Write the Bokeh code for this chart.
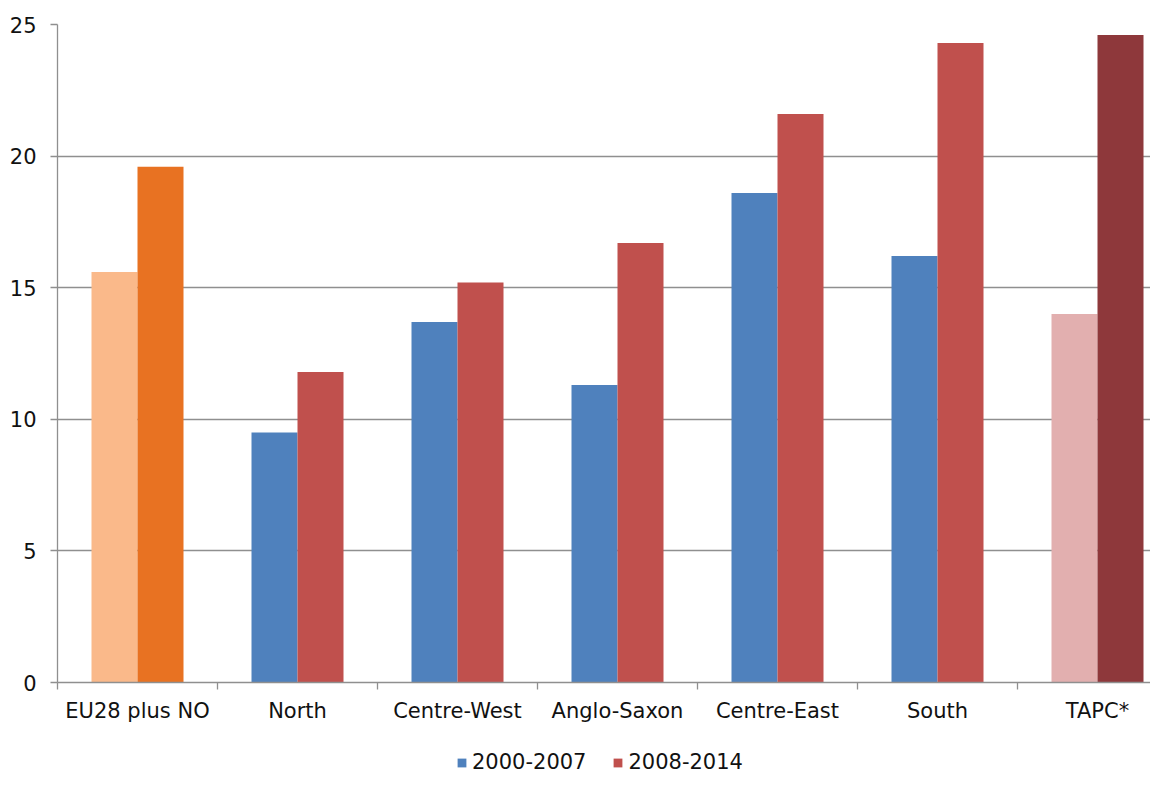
from bokeh.plotting import figure
from bokeh.layouts import column
from bokeh.models import FixedTicker, Legend, LegendItem, ColumnDataSource, Range1d
from bokeh.embed import file_html
from bokeh.resources import INLINE

# ---- data ----
categories = ["EU28 plus NO", "North", "Centre-West", "Anglo-Saxon",
              "Centre-East", "South", "TAPC*"]
v_2000_2007 = [15.6, 9.5, 13.7, 11.3, 18.6, 16.2, 14.0]
v_2008_2014 = [19.6, 11.8, 15.2, 16.7, 21.6, 24.3, 24.6]
series_labels = ["2000-2007", "2008-2014"]
y_ticks = [0, 5, 10, 15, 20, 25]

# ---- styles ----
BLUE, RED = "#4F81BD", "#C0504D"
colors_1 = ["#FAB98A"] + [BLUE] * 5 + ["#E2AFAF"]
colors_2 = ["#E87222"] + [RED] * 5 + ["#8E383B"]
GRID = "#8f8f8f"
FONT = "DejaVu Sans"

n = len(categories)
centers = [i + 0.5 for i in range(n)]
bar_w = 0.2875
off = bar_w / 2

W = 1150
H_MAIN, H_LEG = 748, 27
LEFT, TOP = 57, 24
BOTTOM = H_MAIN - 682
x_end = (W - LEFT) / 160.0

p = figure(width=W, height=H_MAIN, output_backend="svg", toolbar_location=None,
           x_range=Range1d(0, x_end), y_range=Range1d(0, 25),
           min_border_left=LEFT, min_border_right=0, min_border_top=TOP,
           min_border_bottom=BOTTOM)
p.outline_line_color = None
p.background_fill_color = "white"
p.border_fill_color = "white"

src1 = ColumnDataSource(dict(x=[c - off for c in centers], top=v_2000_2007, color=colors_1))
src2 = ColumnDataSource(dict(x=[c + off for c in centers], top=v_2008_2014, color=colors_2))
r1 = p.vbar(x="x", top="top", width=bar_w, bottom=0, fill_color="color",
            line_color=None, source=src1)
r2 = p.vbar(x="x", top="top", width=bar_w, bottom=0, fill_color="color",
            line_color=None, source=src2)

# x axis
xa = p.xaxis[0]
xa.ticker = FixedTicker(ticks=centers, minor_ticks=list(range(n + 1)))
xa.major_label_overrides = {c: lab for c, lab in zip(centers, categories)}
xa.major_tick_line_color = None
xa.minor_tick_line_color = GRID
xa.minor_tick_line_width = 1.3
xa.minor_tick_out = 7
xa.minor_tick_in = 0
xa.axis_line_color = GRID
xa.axis_line_width = 1.3
xa.major_label_text_font = FONT
xa.major_label_text_font_size = "21px"
xa.major_label_text_color = "#111111"
xa.major_label_standoff = 9

# y axis
ya = p.yaxis[0]
ya.ticker = FixedTicker(ticks=y_ticks)
ya.major_tick_line_color = GRID
ya.major_tick_line_width = 1.3
ya.major_tick_out = 7
ya.major_tick_in = 0
ya.minor_tick_line_color = None
ya.axis_line_color = GRID
ya.axis_line_width = 1.3
ya.major_label_text_font = FONT
ya.major_label_text_font_size = "21px"
ya.major_label_text_color = "#111111"
ya.major_label_standoff = 14

p.xgrid.grid_line_color = None
p.ygrid.ticker = FixedTicker(ticks=y_ticks)
p.ygrid.grid_line_color = GRID
p.ygrid.grid_line_width = 1.3

# ---- legend strip (separate figure so the legend is not clipped) ----
lf = figure(width=W, height=H_LEG, output_backend="svg", toolbar_location=None,
            x_range=Range1d(0, 1), y_range=Range1d(0, 1),
            x_axis_location=None, y_axis_location=None,
            min_border_left=LEFT, min_border_right=0, min_border_top=0,
            min_border_bottom=0)
lf.grid.visible = False
lf.outline_line_color = None
lf.background_fill_color = "white"
lf.border_fill_color = "white"
# zero-size proxy bars: only their style is used by the legend swatches
l1 = lf.vbar(x=[0.5], top=[0], bottom=0, width=0, fill_color=BLUE, line_color=None)
l2 = lf.vbar(x=[0.5], top=[0], bottom=0, width=0, fill_color=RED, line_color=None)

legend = Legend(items=[LegendItem(label=series_labels[0], renderers=[l1]),
                       LegendItem(label=series_labels[1], renderers=[l2])],
                orientation="horizontal", location=(399, 1),
                border_line_color=None, background_fill_alpha=0,
                padding=0, margin=0, spacing=26, label_height=24,
                glyph_width=11, glyph_height=11, label_standoff=5,
                label_text_font=FONT, label_text_font_size="21px",
                label_text_color="#111111")
lf.add_layout(legend, "center")

layout = column(p, lf, spacing=0)
open("out.html", "w").write(file_html(layout, INLINE))
